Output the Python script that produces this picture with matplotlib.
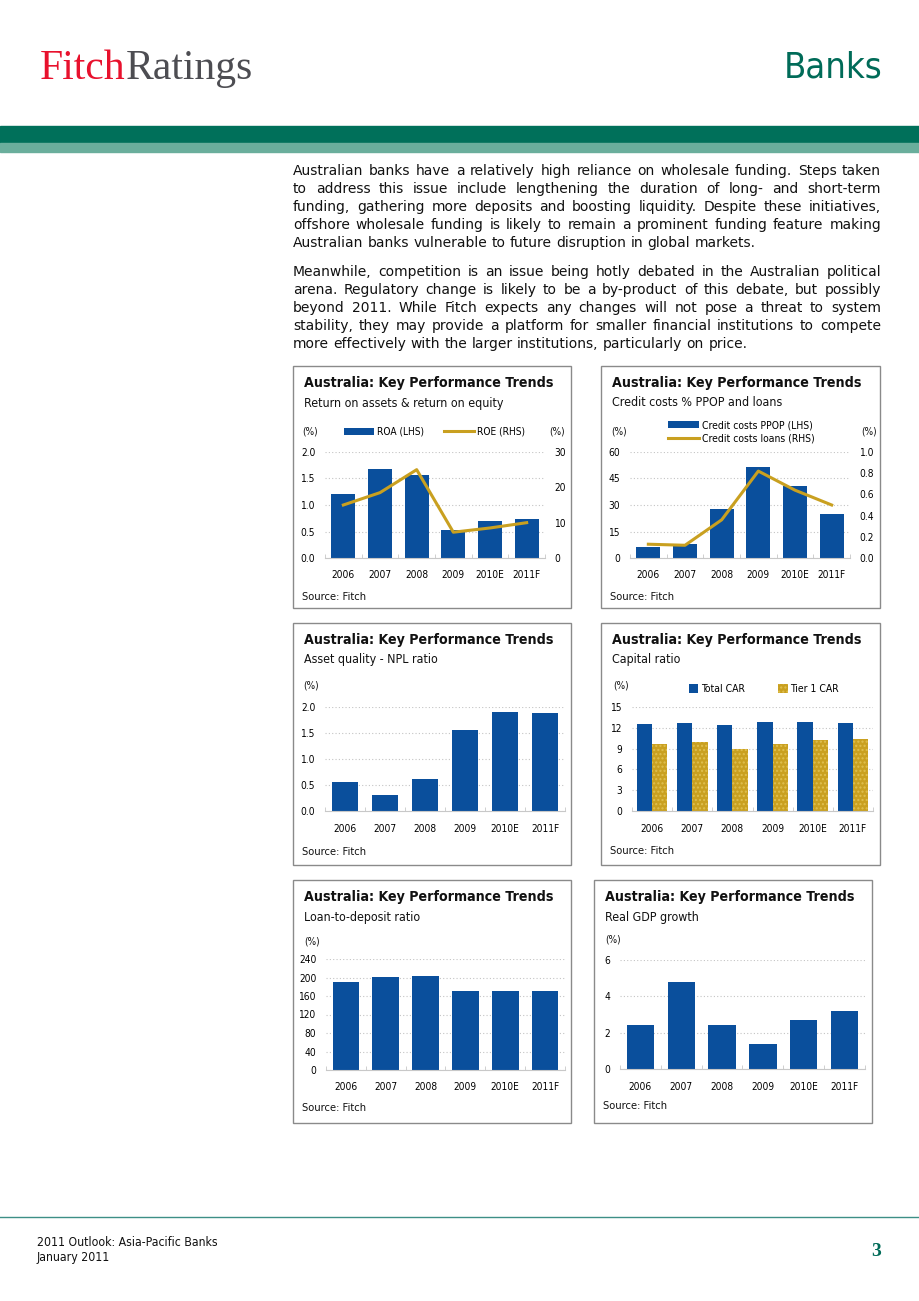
import matplotlib
matplotlib.use("Agg")
import matplotlib.pyplot as plt
from matplotlib.patches import Rectangle
from matplotlib.lines import Line2D

# ---- data ----
years = ["2006", "2007", "2008", "2009", "2010E", "2011F"]

roa = [1.20, 1.68, 1.57, 0.53, 0.70, 0.74]
roe = [15.0, 18.5, 25.0, 7.3, 8.5, 10.0]

cc_ppop = [6.0, 8.0, 27.5, 51.5, 40.5, 25.0]
cc_loans = [0.13, 0.12, 0.36, 0.82, 0.64, 0.50]

npl = [0.56, 0.31, 0.61, 1.55, 1.91, 1.89]

car_total = [12.6, 12.7, 12.4, 12.9, 12.8, 12.7]
car_tier1 = [9.7, 10.0, 8.9, 9.7, 10.3, 10.4]

ldr = [190, 201, 203, 171, 170, 170]

gdp = [2.4, 4.8, 2.4, 1.4, 2.7, 3.2]

para1 = [
    "Australian banks have a relatively high reliance on wholesale funding. Steps taken",
    "to address this issue include lengthening the duration of long- and short-term",
    "funding, gathering more deposits and boosting liquidity. Despite these initiatives,",
    "offshore wholesale funding is likely to remain a prominent funding feature making",
    "Australian banks vulnerable to future disruption in global markets.",
]
para2 = [
    "Meanwhile, competition is an issue being hotly debated in the Australian political",
    "arena. Regulatory change is likely to be a by-product of this debate, but possibly",
    "beyond 2011. While Fitch expects any changes will not pose a threat to system",
    "stability, they may provide a platform for smaller financial institutions to compete",
    "more effectively with the larger institutions, particularly on price.",
]

BLUE = "#0a4f9c"
GOLD = "#c9a020"
TEAL = "#00705a"
GRID = "#c4c4c4"

plt.rcParams["font.family"] = ["DejaVu Sans"]
plt.rcParams["font.stretch"] = "condensed"

W, H = 920, 1301
fig = plt.figure(figsize=(W / 100, H / 100), dpi=100)


def fx(x):
    return x / W


def fy(y):
    return 1 - y / H


def add_ax(x0, y0, x1, y1):
    return fig.add_axes([fx(x0), fy(y1), (x1 - x0) / W, (y1 - y0) / H])


# ---- header ----
fig.patches.append(Rectangle((0, fy(143)), 1, 17 / H, transform=fig.transFigure,
                             color=TEAL, zorder=0))
fig.patches.append(Rectangle((0, fy(152)), 1, 9 / H, transform=fig.transFigure,
                             color="#6aae9c", zorder=0))
t1 = fig.text(fx(40), fy(69), "Fitch", family="Liberation Serif", fontsize=30,
              color="#e8112d", va="center", ha="left")
fig.canvas.draw()
r = fig.canvas.get_renderer()
wf = t1.get_window_extent(r).width
fig.text(fx(40 + wf), fy(69), "Ratings", family="Liberation Serif", fontsize=30,
         color="#4d4d52", va="center", ha="left")
fig.text(fx(883), fy(67), "Banks", family=["Liberation Sans Narrow", "DejaVu Sans"],
         fontsize=26, color="#006b58", va="center", ha="right")


# ---- justified body text ----
def justify(lines, y0, x0=293, x1=881, size=10, lh=18):
    renderer = fig.canvas.get_renderer()
    kw = dict(fontsize=size, stretch="normal")
    sp = fig.text(0, 0, "a a", **kw)
    nsp = fig.text(0, 0, "aa", **kw)
    space = sp.get_window_extent(renderer).width - nsp.get_window_extent(renderer).width
    sp.remove()
    nsp.remove()
    for i, line in enumerate(lines):
        words = line.split()
        y = y0 + i * lh
        texts = [fig.text(0, 0, w, va="center", ha="left", color="#111111", **kw)
                 for w in words]
        widths = [t.get_window_extent(renderer).width for t in texts]
        if i == len(lines) - 1:
            gap = space
        else:
            gap = (x1 - x0 - sum(widths)) / (len(words) - 1)
        x = x0
        for t, w in zip(texts, widths):
            t.set_position((fx(x), fy(y)))
            x += w + gap


justify(para1, 171)
justify(para2, 272)


# ---- chart frames ----
def frame(x0, y0, x1, y1, subtitle, src_y):
    fig.patches.append(Rectangle((fx(x0), fy(y1)), (x1 - x0) / W, (y1 - y0) / H,
                                 transform=fig.transFigure, fill=False,
                                 edgecolor="#8a8a8a", lw=1.0))
    fig.text(fx(x0 + 11), fy(y0 + 17), "Australia: Key Performance Trends",
             fontsize=10.2, fontweight="bold", va="center", color="#111111")
    fig.text(fx(x0 + 11), fy(y0 + 37), subtitle, fontsize=8.9, va="center",
             color="#111111")
    fig.text(fx(x0 + 9), fy(src_y), "Source: Fitch", fontsize=8, va="center",
             color="#111111")


def style(ax, ylim, yticks, fmt):
    ax.set_xlim(-0.5, 5.5)
    ax.set_ylim(*ylim)
    ax.set_yticks(yticks)
    ax.set_yticklabels([fmt.format(v) for v in yticks])
    ax.set_xticks(range(len(years)))
    ax.set_xticklabels(years)
    ax.set_xticks([i - 0.5 for i in range(len(years) + 1)], minor=True)
    ax.tick_params(axis="x", which="major", length=0, pad=9, labelsize=7.3)
    ax.tick_params(axis="x", which="minor", length=3, color="#c8c8c8", direction="in")
    ax.tick_params(axis="y", length=0, pad=7, labelsize=7.3)
    for s in ("top", "right", "left"):
        ax.spines[s].set_visible(False)
    ax.spines["bottom"].set_color("#c8c8c8")
    ax.yaxis.grid(True, linestyle=(0, (1, 2)), color=GRID, lw=0.8)
    ax.set_axisbelow(True)
    ax.patch.set_alpha(0)


def unit(x, y):
    fig.text(fx(x), fy(y), "(%)", fontsize=7.3, va="center", color="#111111")


x = list(range(len(years)))

# chart 1: ROA / ROE
frame(293, 366, 571, 608, "Return on assets & return on equity", 597)
ax1 = add_ax(325, 452, 545, 558)
b = ax1.bar(x, roa, width=0.66, color=BLUE)
style(ax1, (0, 2.0), [0, 0.5, 1.0, 1.5, 2.0], "{:.1f}")
ax1r = ax1.twinx()
ln, = ax1r.plot(x, roe, color=GOLD, lw=2.2)
ax1r.set_ylim(0, 30)
ax1r.set_yticks([0, 10, 20, 30])
ax1r.tick_params(axis="y", length=0, pad=7, labelsize=7.3)
for s in ax1r.spines.values():
    s.set_visible(False)
unit(302, 432)
unit(549, 432)
ax1.legend([b, ln], ["ROA (LHS)", "ROE (RHS)"], ncol=2, loc="center left",
           bbox_to_anchor=(fx(344), fy(432)), bbox_transform=fig.transFigure,
           frameon=False, fontsize=7.3, handlelength=3.0, handleheight=0.7,
           handletextpad=0.3, columnspacing=1.9, borderpad=0, borderaxespad=0)

# chart 2: credit costs
frame(601, 366, 880, 608, "Credit costs % PPOP and loans", 597)
ax2 = add_ax(630, 452, 850, 558)
b = ax2.bar(x, cc_ppop, width=0.66, color=BLUE)
style(ax2, (0, 60), [0, 15, 30, 45, 60], "{:.0f}")
ax2r = ax2.twinx()
ln, = ax2r.plot(x, cc_loans, color=GOLD, lw=2.2)
ax2r.set_ylim(0, 1.0)
ax2r.set_yticks([0, 0.2, 0.4, 0.6, 0.8, 1.0])
ax2r.set_yticklabels(["0.0", "0.2", "0.4", "0.6", "0.8", "1.0"])
ax2r.tick_params(axis="y", length=0, pad=7, labelsize=7.3)
for s in ax2r.spines.values():
    s.set_visible(False)
unit(611, 432)
unit(861, 432)
ax2.legend([b, ln], ["Credit costs PPOP (LHS)", "Credit costs loans (RHS)"], ncol=1,
           loc="center left", bbox_to_anchor=(fx(668), fy(432)),
           bbox_transform=fig.transFigure, frameon=False, fontsize=7.5,
           handlelength=3.0, handleheight=0.7, handletextpad=0.3,
           labelspacing=0.35, borderpad=0, borderaxespad=0)

# chart 3: NPL ratio
frame(293, 623, 571, 865, "Asset quality - NPL ratio", 852)
ax3 = add_ax(325, 707, 565, 811)
ax3.bar(x, npl, width=0.67, color=BLUE)
style(ax3, (0, 2.0), [0, 0.5, 1.0, 1.5, 2.0], "{:.1f}")
unit(303, 685)

# chart 4: capital ratio
frame(601, 623, 880, 865, "Capital ratio", 851)
ax4 = add_ax(632, 707, 873, 811)
xs = [i - 0.19 for i in x]
xt = [i + 0.19 for i in x]
b1 = ax4.bar(xs, car_total, width=0.38, color=BLUE)
b2 = ax4.bar(xt, car_tier1, width=0.38, color=GOLD, hatch="....",
             edgecolor="#e0c050", lw=0)
style(ax4, (0, 15), [0, 3, 6, 9, 12, 15], "{:.0f}")
unit(613, 686)
ax4.legend([b1, b2], ["Total CAR", "Tier 1 CAR"], ncol=2, loc="center left",
           bbox_to_anchor=(fx(689), fy(689)), bbox_transform=fig.transFigure,
           frameon=False, fontsize=7.5, handlelength=0.9, handleheight=0.9,
           handletextpad=0.25, columnspacing=3.2, borderpad=0, borderaxespad=0)

# chart 5: loan-to-deposit ratio
frame(293, 880, 571, 1123, "Loan-to-deposit ratio", 1108)
ax5 = add_ax(326, 959, 565, 1070)
ax5.bar(x, ldr, width=0.67, color=BLUE)
style(ax5, (0, 240), [0, 40, 80, 120, 160, 200, 240], "{:.0f}")
unit(304, 941)

# chart 6: real GDP growth
frame(594, 880, 872, 1123, "Real GDP growth", 1106)
ax6 = add_ax(620, 960, 865, 1069)
ax6.bar(x, gdp, width=0.67, color=BLUE)
style(ax6, (0, 6), [0, 2, 4, 6], "{:.0f}")
unit(605, 940)

# ---- footer ----
fig.add_artist(Line2D([0, 1], [fy(1217), fy(1217)], transform=fig.transFigure,
                      color="#3d8f86", lw=1.0))
fig.text(fx(37), fy(1243), "2011 Outlook: Asia-Pacific Banks", fontsize=8.8,
         va="center", color="#111111")
fig.text(fx(37), fy(1257), "January 2011", fontsize=8.8, va="center", color="#111111")
fig.text(fx(881), fy(1252), "3", family="Liberation Serif", fontweight="bold",
         fontsize=14, color="#006b58", va="center", ha="right")

fig.savefig("out.png", dpi=100)
